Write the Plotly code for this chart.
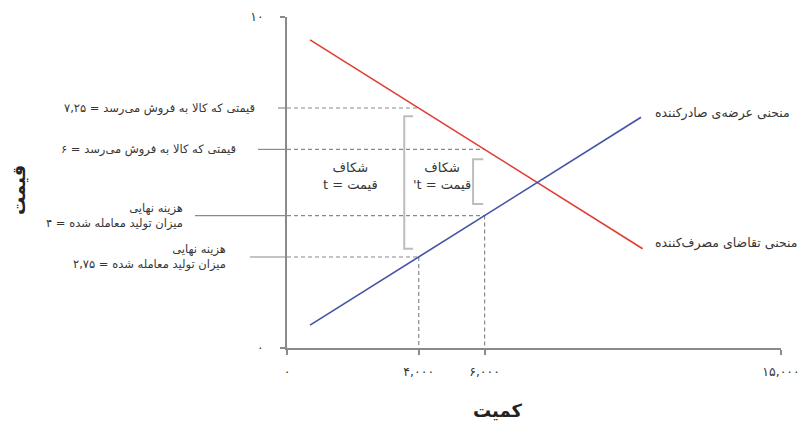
import plotly.graph_objects as go

# curves (quantity, price)
demand_q = [700, 10800]
demand_p = [9.31, 3.0]
supply_q = [700, 10750]
supply_p = [0.69, 6.97]

# marked points
levels = [7.25, 6, 4, 2.75]
level_q = [4000, 6000, 6000, 4000]
level_labels = [
    "قیمتی که کالا به فروش می‌رسد = ۷,۲۵",
    "قیمتی که کالا به فروش می‌رسد = ۶",
    "هزینه نهایی<br>میزان تولید معامله شده = ۴",
    "هزینه نهایی<br>میزان تولید معامله شده = ۲,۷۵",
]

x_ticks = [0, 4000, 6000, 15000]
x_tick_text = ["۰", "۴,۰۰۰", "۶,۰۰۰", "۱۵,۰۰۰"]
y_ticks = [0, 10]
y_tick_text = ["۰", "۱۰"]

FONT = "DejaVu Sans"
GREY = "#8a8a8a"
TXT = "#363636"

# page has an 8px body margin, so shrink the figure to keep the plot where it belongs
OFF = 8
W, H = 810 - 2 * OFF, 439 - 2 * OFF
L = 287 - OFF
T = 17 - OFF
R = W - (781 - OFF)
B = H - (348 - OFF)
pw = W - L - R
ph = H - T - B

# leader start / label right edge, in pixels left of the y axis
leader_px = [9, 29, 92, 37]
label_px = [30, 49, 102, 59]

fig = go.Figure()

fig.add_trace(go.Scatter(x=demand_q, y=demand_p, mode="lines",
                         line=dict(color="#e03c31", width=1.6), hoverinfo="skip"))
fig.add_trace(go.Scatter(x=supply_q, y=supply_p, mode="lines",
                         line=dict(color="#4352a3", width=1.6), hoverinfo="skip"))

shapes = []
for lv, q in zip(levels, level_q):
    shapes.append(dict(type="line", xref="x", yref="y", x0=0, x1=q, y0=lv, y1=lv,
                       line=dict(color=GREY, width=1.2, dash="4px,3px"), layer="below"))
for lv, q in [(2.75, 4000), (4, 6000)]:
    shapes.append(dict(type="line", xref="x", yref="y", x0=q, x1=q, y0=lv, y1=0,
                       line=dict(color=GREY, width=1.2, dash="4px,3px"), layer="below"))

annotations = []
for lv, txt, ll, lp in zip(levels, level_labels, leader_px, label_px):
    shapes.append(dict(type="line", xref="paper", yref="paper",
                       x0=-ll / pw, x1=0, y0=lv / 10, y1=lv / 10,
                       line=dict(color=GREY, width=1.2)))
    annotations.append(dict(xref="paper", yref="y", x=-lp / pw, y=lv,
                            text=txt, showarrow=False, xanchor="right", yanchor="middle",
                            align="right", font=dict(family=FONT, size=11.5, color=TXT)))

# brackets
def bracket(x0, x1, y0, y1):
    return dict(type="path", xref="x", yref="y",
                path=f"M {x1} {y0} L {x0} {y0} L {x0} {y1} L {x1} {y1}",
                line=dict(color="#bdbdbd", width=2))

shapes.append(bracket(3560, 3830, 7.0, 3.0))
shapes.append(bracket(5650, 5960, 5.7, 4.35))

annotations += [
    dict(x=1913, y=5.2, xref="x", yref="y", text="شکاف<br>t = قیمت", showarrow=False,
         font=dict(family=FONT, size=13, color=TXT)),
    dict(x=4707, y=5.2, xref="x", yref="y", text="شکاف<br>'t = قیمت", showarrow=False,
         font=dict(family=FONT, size=13, color=TXT)),
    dict(x=11115, y=7.1, xref="x", yref="y", text="منحنی عرضه‌ی صادرکننده", showarrow=False,
         xanchor="left", yanchor="middle", font=dict(family=FONT, size=12.5, color=TXT)),
    dict(x=11115, y=3.17, xref="x", yref="y", text="منحنی تقاضای مصرف‌کننده", showarrow=False,
         xanchor="left", yanchor="middle", font=dict(family=FONT, size=12.5, color=TXT)),
    dict(x=(497 - 287) / pw, y=-(410 - 348) / ph, xref="paper", yref="paper",
         text="<b>کمیت</b>", showarrow=False, xanchor="center", yanchor="middle",
         font=dict(family=FONT, size=18, color="#222")),
    dict(x=(18 - 287) / pw, y=(348 - 190) / ph, xref="paper", yref="paper",
         text="<b>قیمت</b>", showarrow=False, textangle=-90, xanchor="center", yanchor="middle",
         font=dict(family=FONT, size=18, color="#222")),
]

axis_style = dict(showgrid=False, zeroline=False, showline=True, linecolor=GREY, linewidth=1.5,
                  ticks="outside", ticklen=5, tickcolor=GREY, tickwidth=1.5,
                  automargin=False, tickfont=dict(size=12.5, color=TXT))

fig.update_layout(
    width=W, height=H, margin=dict(l=L, r=R, t=T, b=B),
    paper_bgcolor="white", plot_bgcolor="white", showlegend=False,
    font=dict(family=FONT, color=TXT),
    shapes=shapes, annotations=annotations,
    xaxis=dict(range=[0, 15000], tickvals=x_ticks, ticktext=x_tick_text,
               ticklabelstandoff=6, **axis_style),
    yaxis=dict(range=[0, 10], tickvals=y_ticks, ticktext=y_tick_text,
               ticklabelstandoff=14, **axis_style),
)

fig.write_html("out.html")
